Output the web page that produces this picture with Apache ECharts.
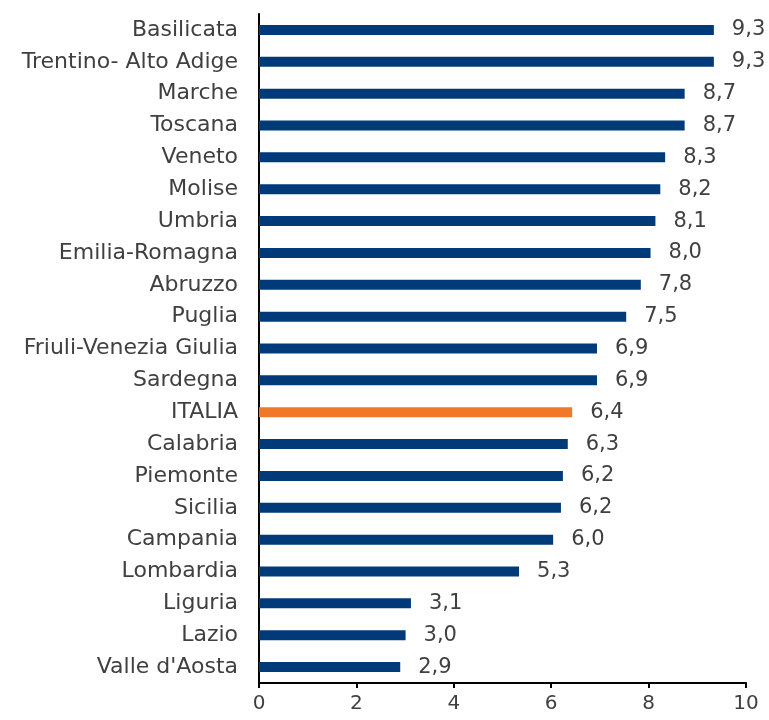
<!DOCTYPE html>
<html><head><meta charset="utf-8">
<script src="https://cdn.jsdelivr.net/npm/echarts@6/dist/echarts.min.js"></script>
<style>html,body{margin:0;padding:0;background:#fff}#c{width:769px;height:720px}</style>
</head><body><div id="c"></div>
<script>
const categories = ["Basilicata","Trentino- Alto Adige","Marche","Toscana","Veneto","Molise","Umbria","Emilia-Romagna","Abruzzo","Puglia","Friuli-Venezia Giulia","Sardegna","ITALIA","Calabria","Piemonte","Sicilia","Campania","Lombardia","Liguria","Lazio","Valle d'Aosta"];
const values = [9.34,9.34,8.74,8.74,8.34,8.24,8.14,8.04,7.84,7.54,6.94,6.94,6.43,6.34,6.24,6.2,6.04,5.34,3.12,3.01,2.9];
const xTicks = [0,2,4,6,8,10];
const highlight = "ITALIA";

const chart = echarts.init(document.getElementById('c'), null, {renderer:'canvas'});
const font = "DejaVu Sans";
chart.setOption({
  animation:false,
  grid:{left:259,right:23,top:14,bottom:37},
  xAxis:{type:'value',min:0,max:10,interval:2,
    axisLine:{show:true,lineStyle:{color:'#000',width:2}},
    axisTick:{show:true,length:5,lineStyle:{color:'#000',width:2}},
    splitLine:{show:false},
    axisLabel:{color:'#404040',fontFamily:font,fontSize:20,margin:11,
      formatter:v=>xTicks.includes(v)?String(v):''}},
  yAxis:{type:'category',inverse:true,data:categories,
    axisLine:{show:true,lineStyle:{color:'#000',width:2}},
    axisTick:{show:false},
    axisLabel:{color:'#404040',fontFamily:font,fontSize:22,margin:21}},
  series:[{type:'bar',barWidth:10,
    data:values.map((v,i)=>({value:v,itemStyle:{color:categories[i]===highlight?'#F07828':'#003A78'}})),
    label:{show:true,position:'right',distance:18,color:'#404040',fontFamily:font,fontSize:21,
      formatter:p=>p.value.toFixed(1).replace('.',',')}}]
});
</script></body></html>
